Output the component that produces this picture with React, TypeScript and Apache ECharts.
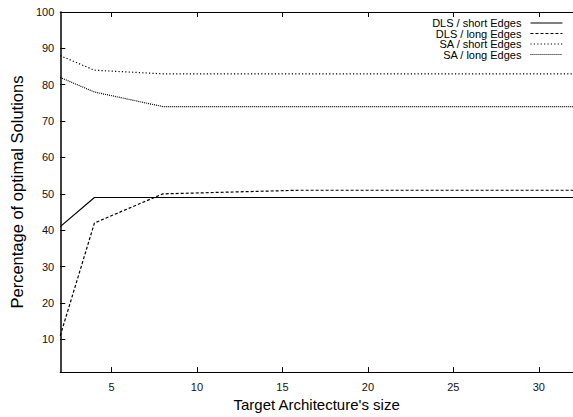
import React, { useEffect, useRef } from "react";
import * as echarts from "echarts";

const xValues = [2, 4, 8, 16, 32];
const dlsShort = [41, 49, 49, 49, 49];
const dlsLong = [11, 42, 50, 51, 51];
const saShort = [88, 84, 83, 83, 83];
const saLong = [82, 78, 74, 74, 74];
const seriesNames = ["DLS / short Edges", "DLS / long Edges", "SA / short Edges", "SA / long Edges"];
const xTicks = [5, 10, 15, 20, 25, 30];
const yTicks = [10, 20, 30, 40, 50, 60, 70, 80, 90, 100];

const FONT = "'Liberation Sans', Arial, Helvetica, sans-serif";

export default function App() {
  const ref = useRef<HTMLDivElement>(null);
  useEffect(() => {
    if (!ref.current) return;
    const chart = echarts.init(ref.current, undefined, { renderer: "svg" });
    const seriesData = [dlsShort, dlsLong, saShort, saLong];
    const dashTypes: any[] = ["solid", [3, 2], [1.2, 2.2], [1, 1]];
    const legendTops = [17.5, 28, 38.5, 49];
    chart.setOption({
      animation: false,
      backgroundColor: "#fff",
      grid: { left: 57, top: 12, width: 520, height: 364 },
      legend: seriesNames.map((n, i) => ({
        data: [n],
        orient: "vertical",
        right: 10,
        top: legendTops[i],
        padding: 0,
        align: "right",
        itemWidth: 32,
        itemHeight: 8,
        itemStyle: { color: "rgba(0,0,0,0)", borderWidth: 0, opacity: 0 },
        lineStyle: { width: 1.1, color: "#000", type: dashTypes[i] },
        textStyle: { fontSize: 11, color: "#000", fontFamily: FONT, padding: [0, 4, 0, 0] },
        selectedMode: false,
      })),
      xAxis: [
        {
          type: "value",
          min: 2,
          max: 32,
          name: "Target Architecture's size",
          nameLocation: "middle",
          nameGap: 19,
          nameTextStyle: { fontSize: 15, color: "#000", fontFamily: FONT },
          axisLine: { show: true, lineStyle: { color: "#000", width: 1.2 } },
          axisTick: { show: true, inside: true, length: 5, customValues: xTicks, lineStyle: { color: "#000" } },
          axisLabel: { customValues: xTicks, fontSize: 11, color: "#111", fontFamily: FONT, margin: 9 },
          splitLine: { show: false },
        },
        {
          type: "value",
          position: "top",
          min: 2,
          max: 32,
          axisLine: { show: true, onZero: false, lineStyle: { color: "#000", width: 1.2 } },
          axisTick: { show: true, inside: true, length: 5, customValues: xTicks, lineStyle: { color: "#000" } },
          axisLabel: { show: false },
          splitLine: { show: false },
        },
      ],
      yAxis: {
        type: "value",
        min: 1,
        max: 100,
        name: "Percentage of optimal Solutions",
        nameLocation: "middle",
        nameGap: 31,
        nameTextStyle: { fontSize: 16.5, color: "#000", fontFamily: FONT },
        axisLine: { show: true, onZero: false, lineStyle: { color: "#000", width: 1.5 } },
        axisTick: { show: true, inside: true, length: 5, customValues: yTicks, lineStyle: { color: "#000" } },
        axisLabel: { customValues: yTicks, fontSize: 11, color: "#111", fontFamily: FONT, margin: 6 },
        splitLine: { show: false },
      },
      series: seriesNames.map((n, i) => ({
        name: n,
        type: "line",
        xAxisIndex: 0,
        data: xValues.map((x, j) => [x, seriesData[i][j]]),
        symbol: "none",
        showSymbol: false,
        color: "#000",
        lineStyle: { color: "#000", width: 1.2, type: dashTypes[i] },
      })),
    });
    return () => chart.dispose();
  }, []);
  return (
    <div
      ref={ref}
      style={{ position: "fixed", left: 0, top: 0, width: 573, height: 417, background: "#fff" }}
    />
  );
}
